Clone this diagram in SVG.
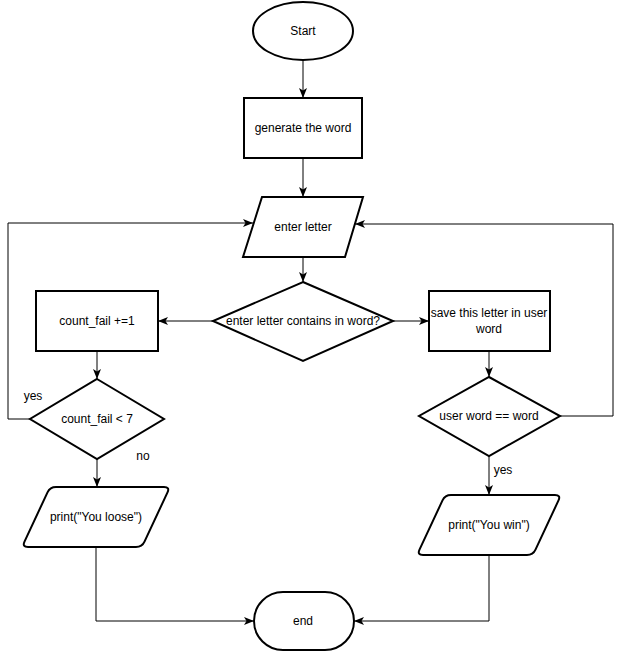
<svg xmlns="http://www.w3.org/2000/svg" width="622" height="652" viewBox="0 0 622 652">
  <style>
    .shape { fill: #ffffff; stroke: #000000; stroke-width: 2; }
    .edge { fill: none; stroke: #000000; stroke-width: 1; }
    .label { font-family: "Liberation Sans", Arial, Helvetica, sans-serif; font-size: 12px; fill: #000000; text-anchor: middle; dominant-baseline: central; }
  </style>
  <defs>
    <marker id="arrow" markerUnits="userSpaceOnUse" viewBox="0 0 10 8" refX="10" refY="4" markerWidth="10" markerHeight="8" orient="auto">
      <path d="M0,0 L10,4 L0,8 L2.5,4 Z" fill="#000000"/>
    </marker>
  </defs>
  <rect width="622" height="652" fill="#ffffff"/>

  <!-- connectors -->
  <g id="connectors">
    <line class="edge" x1="303" y1="60" x2="303" y2="98" marker-end="url(#arrow)"/>
    <line class="edge" x1="303" y1="158" x2="303" y2="197" marker-end="url(#arrow)"/>
    <line class="edge" x1="303" y1="257" x2="303" y2="282" marker-end="url(#arrow)"/>
    <line class="edge" x1="213" y1="321" x2="158" y2="321" marker-end="url(#arrow)"/>
    <line class="edge" x1="393" y1="321" x2="429" y2="321" marker-end="url(#arrow)"/>
    <line class="edge" x1="97" y1="351" x2="97" y2="379" marker-end="url(#arrow)"/>
    <line class="edge" x1="489" y1="351" x2="489" y2="377" marker-end="url(#arrow)"/>
    <polyline class="edge" points="30,419 8,419 8,223 253,223" marker-end="url(#arrow)"/>
    <polyline class="edge" points="560,416 613,416 613,224 355,224" marker-end="url(#arrow)"/>
    <line class="edge" x1="97" y1="459" x2="97" y2="487" marker-end="url(#arrow)"/>
    <line class="edge" x1="489" y1="456" x2="489" y2="495" marker-end="url(#arrow)"/>
    <polyline class="edge" points="96,547 96,621 254,621" marker-end="url(#arrow)"/>
    <polyline class="edge" points="489,555 489,621 354,621" marker-end="url(#arrow)"/>
    <text class="label" x="33" y="396">yes</text>
    <text class="label" x="143" y="456">no</text>
    <text class="label" x="503" y="470">yes</text>
  </g>

  <!-- nodes -->
  <g id="start">
    <ellipse class="shape" cx="303" cy="31" rx="50" ry="29"/>
    <text class="label" x="303" y="31">Start</text>
  </g>
  <g id="generate">
    <rect class="shape" x="244" y="98" width="118" height="60"/>
    <text class="label" x="303" y="128">generate the word</text>
  </g>
  <g id="enter-letter">
    <polygon class="shape" points="262,197 363,197 345,257 243,257"/>
    <text class="label" x="303" y="227">enter letter</text>
  </g>
  <g id="contains">
    <polygon class="shape" points="303,282 393,321 303,361 213,321"/>
    <text class="label" x="303" y="321">enter letter contains in word?</text>
  </g>
  <g id="count-fail">
    <rect class="shape" x="36" y="291" width="122" height="60"/>
    <text class="label" x="97" y="321">count_fail +=1</text>
  </g>
  <g id="fail-check">
    <polygon class="shape" points="97,379 164,419 97,459 30,419"/>
    <text class="label" x="97" y="419">count_fail &lt; 7</text>
  </g>
  <g id="save-letter">
    <rect class="shape" x="429" y="291" width="121" height="60"/>
    <text class="label" x="489" y="313">save this letter in user</text>
    <text class="label" x="489" y="329">word</text>
  </g>
  <g id="word-check">
    <polygon class="shape" points="489,377 560,416 489,456 419,416"/>
    <text class="label" x="489" y="416">user word == word</text>
  </g>
  <g id="print-loose">
    <path class="shape" d="M56,487 L164,487 Q170,487 167.5,492.4 L144.5,541.6 Q142,547 136,547 L28,547 Q22,547 24.5,541.6 L47.5,492.4 Q50,487 56,487 Z"/>
    <text class="label" x="96" y="517">print("You loose")</text>
  </g>
  <g id="print-win">
    <path class="shape" d="M451,495 L555,495 Q561,495 558.5,500.4 L535.5,549.6 Q533,555 527,555 L423,555 Q417,555 419.5,549.6 L442.5,500.4 Q445,495 451,495 Z"/>
    <text class="label" x="489" y="525">print("You win")</text>
  </g>
  <g id="end">
    <rect class="shape" x="254" y="592" width="100" height="58" rx="29" ry="29"/>
    <text class="label" x="303" y="621">end</text>
  </g>
</svg>
